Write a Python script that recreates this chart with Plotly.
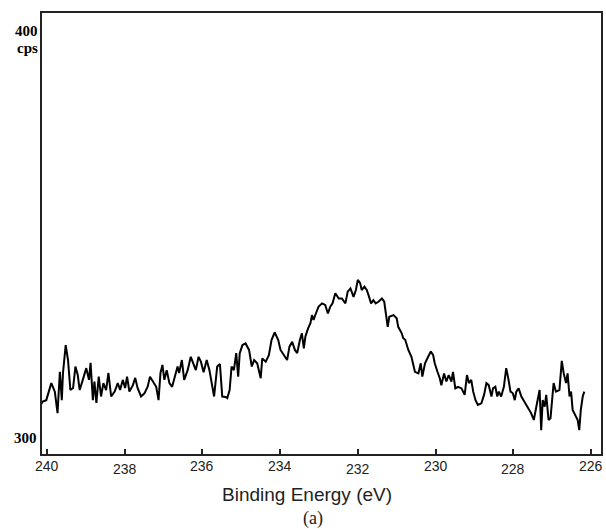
import plotly.graph_objects as go

# Binding energy (eV) and intensity (cps)
energy = [
    240.16, 240.12, 240.02, 239.89, 239.80, 239.73, 239.67, 239.62, 239.59, 239.52,
    239.46, 239.40, 239.33, 239.27, 239.21, 239.16, 239.08, 238.99, 238.92, 238.88,
    238.82, 238.78, 238.73, 238.67, 238.61, 238.55, 238.48, 238.42, 238.35, 238.26,
    238.18, 238.12, 238.05, 237.99, 237.94, 237.88, 237.79, 237.73, 237.67, 237.58,
    237.49, 237.41, 237.35, 237.26, 237.19, 237.13, 237.08, 237.03, 236.98, 236.92,
    236.85, 236.78, 236.71, 236.64, 236.60, 236.53, 236.47, 236.38, 236.30, 236.23,
    236.17, 236.10, 236.04, 235.97, 235.89, 235.82, 235.76, 235.70, 235.62, 235.55,
    235.49, 235.40, 235.36, 235.30, 235.25, 235.19, 235.13, 235.08, 235.04, 234.97,
    234.89, 234.80, 234.73, 234.67, 234.59, 234.50, 234.46, 234.37, 234.29, 234.22,
    234.14, 234.05, 233.99, 233.90, 233.82, 233.76, 233.69, 233.62, 233.56, 233.49,
    233.44, 233.39, 233.35, 233.28, 233.22, 233.18, 233.14, 233.08, 233.01, 232.92,
    232.84, 232.77, 232.71, 232.65, 232.58, 232.49, 232.41, 232.32, 232.26, 232.19,
    232.11, 232.05, 232.00, 231.94, 231.90, 231.83, 231.77, 231.71, 231.66, 231.60,
    231.54, 231.47, 231.38, 231.32, 231.27, 231.23, 231.19, 231.08, 231.00, 230.96,
    230.87, 230.83, 230.78, 230.70, 230.62, 230.53, 230.44, 230.38, 230.34, 230.27,
    230.19, 230.12, 230.06, 230.02, 229.95, 229.89, 229.85, 229.78, 229.72, 229.66,
    229.59, 229.55, 229.49, 229.42, 229.33, 229.25, 229.19, 229.14, 229.08, 229.03,
    228.97, 228.91, 228.82, 228.75, 228.69, 228.63, 228.56, 228.52, 228.46, 228.41,
    228.37, 228.31, 228.24, 228.18, 228.12, 228.07, 228.01, 227.96, 227.92, 227.86,
    227.79, 227.71, 227.62, 227.54, 227.47, 227.44, 227.38, 227.32, 227.28, 227.24,
    227.19, 227.15, 227.09, 227.04, 227.01, 226.96, 226.90, 226.81, 226.75, 226.70,
    226.64, 226.60, 226.55, 226.51, 226.47, 226.43, 226.38, 226.34, 226.30, 226.26,
    226.21, 226.17,
]
counts = [
    307.9, 308.7, 309.1, 313.3, 311.2, 305.9, 316.1, 309.1, 315.8, 322.7,
    319.0, 311.6, 312.1, 317.4, 315.3, 311.6, 314.1, 317.0, 314.1, 318.3,
    309.1, 313.7, 308.4, 314.9, 310.0, 313.3, 311.6, 315.8, 310.0, 311.2,
    313.3, 311.6, 314.1, 312.1, 314.9, 311.2, 312.8, 314.6, 312.1, 310.0,
    310.8, 312.4, 314.9, 313.3, 312.4, 309.1, 315.8, 317.8, 314.1, 316.5,
    313.3, 312.4, 314.9, 317.4, 315.8, 319.0, 314.1, 316.5, 319.8, 318.2,
    316.5, 319.8, 318.6, 316.0, 319.0, 316.5, 313.3, 310.0, 317.4, 318.0,
    310.0, 309.9, 309.6, 311.6, 317.4, 316.5, 320.7, 314.9, 320.7, 322.7,
    323.1, 321.5, 317.4, 319.0, 318.2, 314.5, 319.4, 318.6, 320.2, 324.0,
    325.8, 324.0, 321.5, 320.2, 319.0, 322.3, 323.5, 321.5, 320.7, 324.0,
    325.6, 321.9, 324.8, 326.8, 328.1, 330.1, 328.9, 330.5, 332.2, 333.0,
    332.6, 330.5, 332.2, 333.0, 335.5, 334.2, 334.2, 333.0, 335.9, 336.7,
    334.6, 336.3, 338.8, 338.0, 336.3, 337.1, 336.3, 334.6, 333.0, 333.8,
    333.0, 333.4, 334.2, 333.4, 330.5, 327.2, 329.7, 330.1, 329.3, 327.2,
    325.6, 324.4, 324.0, 321.5, 319.8, 316.1, 315.7, 318.2, 314.9, 318.2,
    319.8, 321.1, 320.2, 318.2, 316.1, 314.5, 312.8, 315.7, 313.7, 315.3,
    313.7, 316.1, 312.0, 312.4, 312.0, 310.4, 315.3, 313.3, 314.1, 311.2,
    309.1, 307.9, 308.3, 310.4, 313.3, 312.8, 310.0, 312.0, 312.4, 310.0,
    311.2, 310.0, 312.4, 317.0, 314.1, 311.2, 310.8, 309.1, 311.2, 312.0,
    310.0, 308.7, 307.5, 305.9, 304.2, 305.9, 308.7, 311.6, 301.7, 309.1,
    307.5, 310.4, 304.2, 304.6, 307.5, 313.3, 311.2, 311.6, 318.8, 315.7,
    313.3, 315.7, 310.0, 311.2, 306.7, 305.9, 304.6, 304.2, 301.7, 306.7,
    310.0, 311.2,
]

x_ticks = [240, 238, 236, 234, 232, 230, 228, 226]
x_tick_labels = ["240", "238", "236", "234", "232", "230", "228", "226"]
x_label_shift = [-12, -15, -12, -12, -15, -12, -15, -12]

fig = go.Figure()
fig.add_trace(go.Scatter(
    x=energy, y=counts, mode="lines",
    line=dict(color="black", width=2),
    showlegend=False, hoverinfo="skip",
))

axis_line = dict(showline=True, linecolor="#222", linewidth=2, mirror=True,
                 showgrid=False, zeroline=False)

fig.update_layout(
    width=606, height=529,
    margin=dict(l=42, r=3, t=13, b=75),
    paper_bgcolor="white", plot_bgcolor="white",
    xaxis=dict(range=[240.13, 225.74], tickvals=x_ticks, showticklabels=False,
               ticks="inside", ticklen=5, tickwidth=1.5, tickcolor="#222",
               **axis_line),
    yaxis=dict(range=[295.8, 404.7], showticklabels=False, ticks="", **axis_line),
)

for v, t, s in zip(x_ticks, x_tick_labels, x_label_shift):
    fig.add_annotation(x=v, xref="x", y=0, yref="paper", yshift=s,
                       text=t, showarrow=False, yanchor="middle",
                       font=dict(family="Liberation Sans, Arial", size=14, color="#222"))

serif_bold = dict(family="Liberation Serif, Times New Roman, serif", size=15, color="black")
fig.add_annotation(x=0, xref="paper", xshift=-3, xanchor="right", y=400, yref="y",
                   yshift=2, height=13, borderpad=0, valign="middle",
                   text="<b>400</b>", showarrow=False, yanchor="middle", font=serif_bold)
fig.add_annotation(x=0, xref="paper", xshift=-3, xanchor="right", y=400, yref="y",
                   yshift=-15, height=17, borderpad=0, valign="middle",
                   text="<b>cps</b>", showarrow=False, yanchor="middle", font=serif_bold)
fig.add_annotation(x=0, xref="paper", xshift=-3, xanchor="right", y=300, yref="y",
                   yshift=-1, text="<b>300</b>", showarrow=False, yanchor="middle",
                   font=serif_bold)

fig.add_annotation(x=0.5, xref="paper", xshift=-15, y=0, yref="paper", yshift=-40,
                   text="Binding Energy (eV)", showarrow=False, yanchor="middle",
                   font=dict(family="Liberation Sans, Arial", size=19, color="#222"))
fig.add_annotation(x=0.5, xref="paper", xshift=-9, y=0, yref="paper", yshift=-64,
                   text="(a)", showarrow=False, yanchor="middle",
                   font=dict(family="Liberation Serif, Times New Roman, serif", size=18,
                             color="#222"))

fig.write_html("out.html")
